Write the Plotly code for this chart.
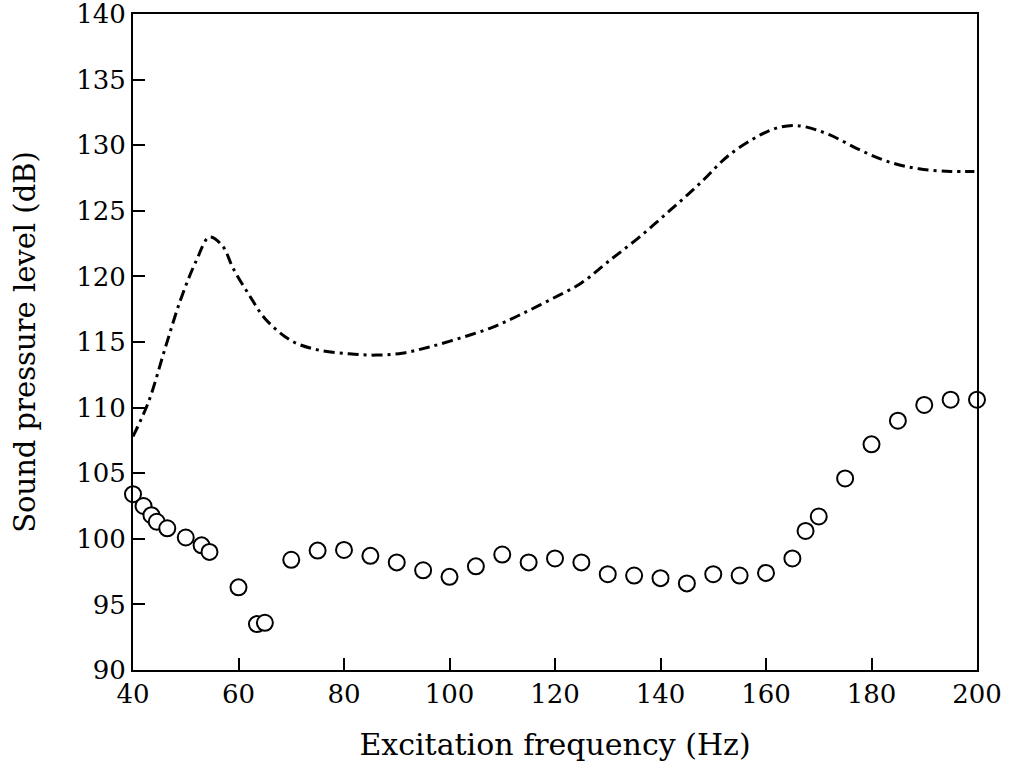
import plotly.graph_objects as go

# measured sound pressure level (open circles)
meas_freq = [40, 42, 43.5, 44.5, 46.5, 50, 53, 54.5, 60, 63.5, 65, 70, 75, 80, 85,
             90, 95, 100, 105, 110, 115, 120, 125, 130, 135, 140, 145, 150, 155,
             160, 165, 167.5, 170, 175, 180, 185, 190, 195, 200]
meas_spl = [103.4, 102.5, 101.8, 101.3, 100.8, 100.1, 99.5, 99.0, 96.3, 93.5, 93.6,
            98.4, 99.1, 99.15, 98.7, 98.2, 97.6, 97.1, 97.9, 98.8, 98.2, 98.5, 98.2,
            97.3, 97.2, 97.0, 96.6, 97.3, 97.2, 97.4, 98.5, 100.6, 101.7, 104.6,
            107.2, 109.0, 110.2, 110.6, 110.6]

# predicted curve (dash-dot)
pred_freq = [40, 43, 46, 49, 52, 54.5, 57, 59, 62, 65, 70, 75, 81, 86, 91, 96,
             102, 108, 113, 119, 125, 130, 136, 142, 147.5, 153, 159, 162, 165,
             167.5, 172, 178, 183.5, 189, 195, 199.5]
pred_spl = [107.8, 110.5, 114.4, 118.2, 121.2, 123.0, 122.3, 120.6, 118.6, 116.8,
            115.1, 114.4, 114.1, 114.0, 114.15, 114.6, 115.3, 116.1, 117.0, 118.2,
            119.5, 121.1, 123.0, 125.1, 127.1, 129.25, 130.8, 131.3, 131.5, 131.4,
            130.8, 129.6, 128.7, 128.2, 128.0, 128.0]

font_family = "DejaVu Serif"

fig = go.Figure()
fig.add_trace(go.Scatter(
    x=pred_freq, y=pred_spl, mode="lines", line_shape="spline",
    line=dict(color="black", width=3, dash="11px,5px,3px,5px"),
    showlegend=False, cliponaxis=False))
fig.add_trace(go.Scatter(
    x=meas_freq, y=meas_spl, mode="markers",
    marker=dict(symbol="circle", size=16, color="white",
                line=dict(color="black", width=2)),
    showlegend=False, cliponaxis=False))

fig.update_layout(
    width=1010, height=769,
    paper_bgcolor="white", plot_bgcolor="white",
    margin=dict(l=133, r=33, t=14, b=99, pad=0),
    font=dict(family=font_family, size=26, color="black"),
)
fig.update_xaxes(
    range=[40, 200], tickvals=list(range(40, 201, 20)),
    ticks="inside", ticklen=12, tickwidth=2, tickcolor="black",
    showline=True, linecolor="black", linewidth=2, mirror=True,
    showgrid=False, zeroline=False, automargin=False, ticklabeloverflow="allow",
    title=dict(text="Excitation frequency (Hz)", font=dict(size=30), standoff=26),
)
fig.update_yaxes(
    range=[90, 140], tickvals=list(range(90, 141, 5)),
    ticks="inside", ticklen=12, tickwidth=2, tickcolor="black",
    showline=True, linecolor="black", linewidth=2, mirror=True,
    showgrid=False, zeroline=False, automargin=False, ticklabeloverflow="allow",
    title=dict(text="Sound pressure level (dB)", font=dict(size=29), standoff=32),
)

# drop the default page margin so the figure sits at the window corner
fig.write_html("out.html", config={"displayModeBar": False},
               post_script="document.body.style.margin='0';")
